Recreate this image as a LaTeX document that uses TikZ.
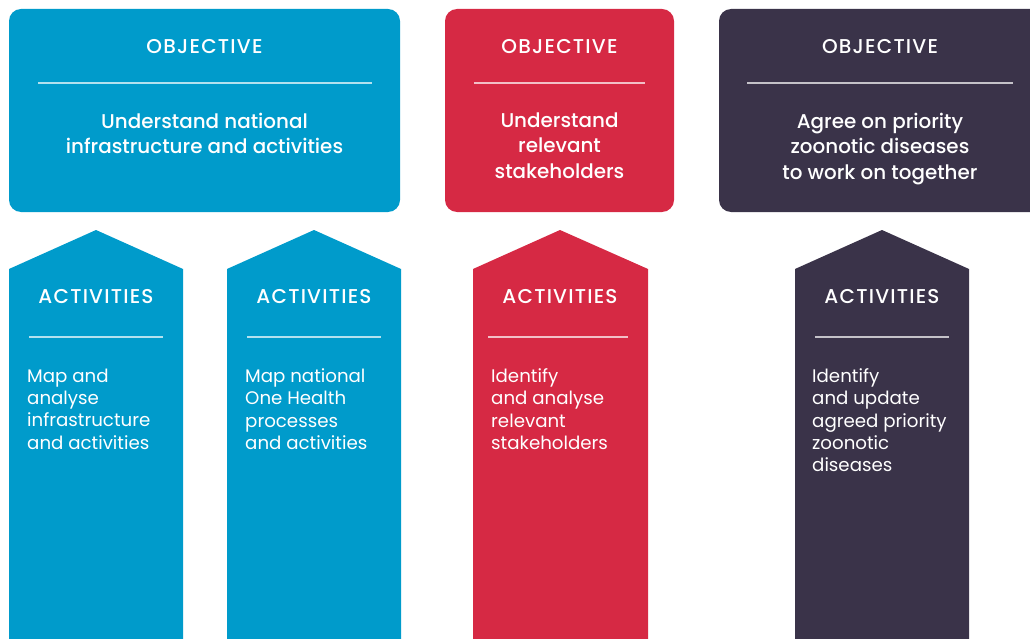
\documentclass[tikz,border=0pt]{standalone}
\usepackage{fontspec}
\setmainfont{Poppins}
\newfontfamily\medfont{Poppins Medium}
\newfontfamily\medspaced{Poppins Medium}[LetterSpace=6]
\definecolor{cblue}{HTML}{009BCB}
\definecolor{cred}{HTML}{D62944}
\definecolor{cdark}{HTML}{3A3349}
\tikzset{
  objbox/.style={rounded corners=12pt},
  headtext/.style={text=white, inner sep=0pt, font=\medspaced\fontsize{20}{24}\selectfont},
  objtext/.style={text=white, inner sep=0pt, align=center, anchor=north, font=\medfont\fontsize{19.9}{25.5}\selectfont},
  bodytext/.style={text=white, inner sep=0pt, align=left, anchor=north west, font=\fontsize{18.2}{22.3}\selectfont},
  sepline/.style={draw=white, draw opacity=0.7, line width=1.2pt}
}
\begin{document}
\begin{tikzpicture}[x=1pt,y=-1pt]
\useasboundingbox (0,0) rectangle (1030,639);
\clip (0,0) rectangle (1030,639);
% objective boxes
\fill[cblue, objbox] (9,9) rectangle (400,212);
\fill[cred, objbox] (445,9) rectangle (674,212);
\fill[cdark, objbox] (719,9) rectangle (1050,212);
% activity arrows
\fill[cblue] (9,645) -- (9,269) -- (96,230) -- (183,269) -- (183,645) -- cycle;
\fill[cblue] (227,645) -- (227,269) -- (314,230) -- (401,269) -- (401,645) -- cycle;
\fill[cred] (473,645) -- (473,269) -- (560,230) -- (648,269) -- (648,645) -- cycle;
\fill[cdark] (795,645) -- (795,269) -- (882,230) -- (969,269) -- (969,645) -- cycle;
% objective texts
\node[headtext] (o1h) at (204.5,47) {OBJECTIVE};
\node[headtext] (o2h) at (559.5,47) {OBJECTIVE};
\node[headtext] (o3h) at (880,47) {OBJECTIVE};
\draw[sepline] (38,83) -- (372,83);
\draw[sepline] (474,83) -- (645,83);
\draw[sepline] (747,83) -- (1013,83);
\node[objtext] (o1t) at (204.5,112.5) {Understand national\\infrastructure and activities};
\node[objtext] (o2t) at (559.5,112.5) {Understand\\relevant\\stakeholders};
\node[objtext] (o3t) at (880,112.5) {Agree on priority\\zoonotic diseases\\to work on together};
% activities texts
\node[headtext] (a1h) at (96,297) {ACTIVITIES};
\node[headtext] (a2h) at (314,297) {ACTIVITIES};
\node[headtext] (a3h) at (560,297) {ACTIVITIES};
\node[headtext] (a4h) at (882,297) {ACTIVITIES};
\draw[sepline] (29,337) -- (163,337);
\draw[sepline] (247,337) -- (381,337);
\draw[sepline] (488,337) -- (628,337);
\draw[sepline] (815,337) -- (949,337);
\node[bodytext] (a1t) at (27,368.5) {Map and\\analyse\\infrastructure\\and activities};
\node[bodytext] (a2t) at (245,368.5) {Map national\\One Health\\processes\\and activities};
\node[bodytext] (a3t) at (491,368.5) {Identify\\and analyse\\relevant\\stakeholders};
\node[bodytext] (a4t) at (812,368.5) {Identify\\and update\\agreed priority\\zoonotic\\diseases};
\end{tikzpicture}
\end{document}
